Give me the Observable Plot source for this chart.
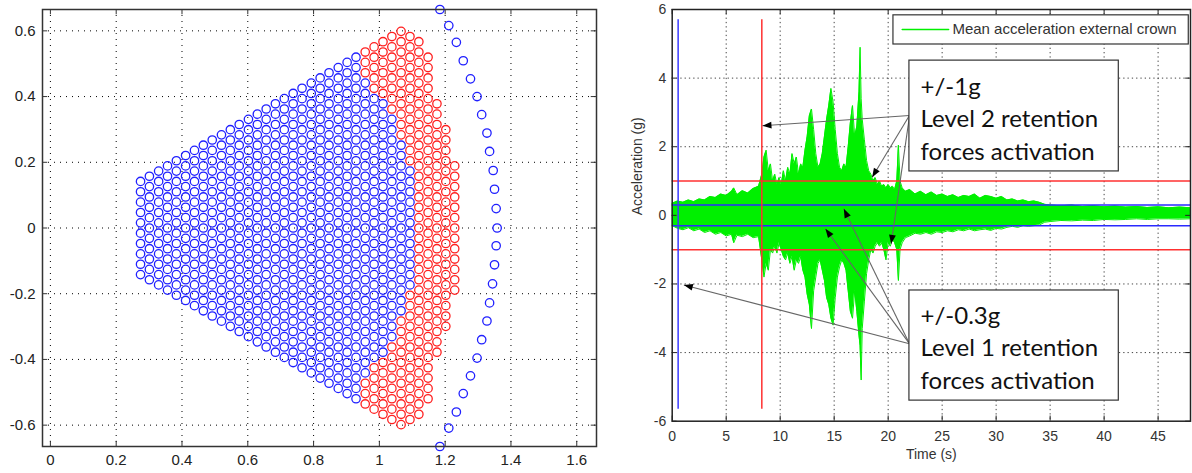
<!DOCTYPE html>
<html><head><meta charset="utf-8">
<script src="https://cdn.jsdelivr.net/npm/d3@7"></script>
<script src="https://cdn.jsdelivr.net/npm/@observablehq/plot@0.6"></script>
<style>
body{margin:0;background:#fff;}
#wrap{position:relative;width:1192px;height:473px;overflow:hidden;background:#fff;}
#left{position:absolute;left:0;top:0;}
#right{position:absolute;left:600px;top:0;}
</style></head><body><div id="wrap"><div id="left"></div><div id="right"></div></div>
<script>
// ---------- LEFT PANEL DATA ----------
const leftXTicks = [0, 0.2, 0.4, 0.6, 0.8, 1, 1.2, 1.4, 1.6];
const leftYTicks = [-0.6, -0.4, -0.2, 0, 0.2, 0.4, 0.6];
// hexagonal lattice, one entry per column
const latticeDY = 0.0315;
const colX = [0.274,0.301,0.329,0.356,0.383,0.411,0.438,0.465,0.492,0.520,0.547,0.574,0.602,0.629,0.656,0.684,0.711,0.738,0.765,0.793,0.820,0.847,0.875,0.902,0.929,0.957,0.984,1.011,1.038,1.066,1.093,1.120,1.148,1.175,1.202,1.229];
const colHalf = [1,0,1,0,1,0,1,0,1,0,1,0,1,0,1,0,1,0,1,0,1,0,1,0,1,0,1,0,1,0,1,0,1,0,1,0];
const colTop = [0.142,0.158,0.173,0.189,0.205,0.221,0.236,0.252,0.268,0.284,0.299,0.315,0.331,0.347,0.362,0.378,0.394,0.410,0.425,0.441,0.457,0.473,0.488,0.504,0.520,0.536,0.551,0.567,0.583,0.599,0.583,0.567,0.520,0.378,0.299,0.189];
const colBlueTop = [1,1,1,1,1,1,1,1,1,1,1,1,1,1,1,1,1,1,1,1,1,1,1,1,1,0.45,0.40,0.38,0.34,0.26,0.19,-1,-1,-1,-1,-1];
// outer arc of blue circles
const arcX = [1.184,1.211,1.234,1.255,1.277,1.297,1.311,1.327,1.335,1.346,1.350,1.355,1.358,1.355,1.350,1.344,1.335,1.327,1.311,1.297,1.277,1.255,1.234,1.211,1.184];
const arcY = [0.665,0.616,0.565,0.509,0.454,0.400,0.345,0.289,0.233,0.175,0.118,0.059,0,-0.054,-0.112,-0.170,-0.228,-0.283,-0.340,-0.396,-0.450,-0.504,-0.560,-0.609,-0.665];

// ---------- RIGHT PANEL DATA ----------
const rightXTicks = [0,5,10,15,20,25,30,35,40,45];
const rightYTicks = [-6,-4,-2,0,2,4,6];
const sigT  = [0,0.5,1,1.5,2,2.5,3,3.5,4,4.5,5,5.5,5.7,6,6.5,7,7.5,8,8.3,8.5,8.7,8.9,9.1,9.3,9.5,9.7,9.9,10.1,10.3,10.5,10.7,10.9,11.1,11.3,11.5,11.7,11.9,12.1,12.3,12.5,12.7,12.9,13.1,13.3,13.5,13.7,13.9,14.1,14.3,14.5,14.7,14.9,15.1,15.3,15.5,15.7,15.9,16.1,16.3,16.5,16.7,16.9,17.1,17.3,17.4,17.5,17.6,17.8,18.0,18.2,18.4,18.6,18.8,19.0,19.2,19.4,19.6,19.8,20.0,20.2,20.4,20.6,20.8,20.95,21.1,21.3,21.6,22,22.5,23,23.5,24,24.5,25,25.5,26,26.5,27,27.5,28,28.5,29,29.5,30,30.5,31,31.5,32,32.5,33,33.5,34,34.5,35,36,37,38,39,40,41,42,43,44,45,46,47,48];
const sigHi = [0.35,0.42,0.38,0.45,0.40,0.48,0.45,0.55,0.52,0.62,0.58,0.70,0.80,0.60,0.72,0.65,0.78,0.85,1.2,1.7,1.9,1.3,1.5,1.0,1.2,0.9,1.1,0.9,1.3,1.0,1.4,1.2,1.8,1.5,1.7,1.2,1.5,1.4,1.9,2.3,2.9,3.1,2.5,1.8,1.4,1.5,1.8,2.3,2.8,3.2,3.7,3.3,2.5,1.8,1.4,1.3,1.5,1.4,2.0,2.7,3.2,2.3,2.6,3.6,4.9,3.4,2.8,2.2,1.6,1.3,1.2,1.0,1.1,0.9,1.0,0.85,0.9,0.8,0.9,0.8,0.85,0.75,1.0,2.05,1.0,0.8,0.7,0.75,0.62,0.7,0.6,0.68,0.58,0.62,0.55,0.6,0.52,0.58,0.55,0.62,0.5,0.58,0.55,0.5,0.55,0.45,0.48,0.42,0.45,0.4,0.42,0.38,0.32,0.3,0.28,0.3,0.26,0.28,0.25,0.27,0.24,0.26,0.23,0.25,0.22,0.24,0.22];
const sigLo = [-0.3,-0.38,-0.42,-0.36,-0.45,-0.40,-0.50,-0.45,-0.55,-0.50,-0.60,-0.55,-0.80,-0.58,-0.62,-0.55,-0.65,-0.62,-1.3,-1.8,-1.4,-1.6,-1.0,-1.1,-0.9,-1.1,-0.8,-1.0,-1.2,-1.3,-1.1,-1.4,-1.2,-1.6,-1.3,-1.4,-1.2,-1.6,-1.8,-2.3,-2.6,-3.3,-2.2,-1.8,-1.4,-1.3,-1.6,-1.9,-2.4,-2.6,-3.0,-3.2,-2.4,-1.8,-1.5,-1.3,-1.4,-1.6,-2.2,-2.8,-3.0,-2.2,-2.8,-3.5,-3.8,-4.8,-3.3,-2.5,-1.7,-1.3,-1.0,-1.1,-0.9,-0.8,-0.9,-0.8,-1.0,-1.3,-0.8,-0.9,-0.7,-0.8,-1.0,-1.9,-1.0,-0.8,-0.65,-0.6,-0.52,-0.55,-0.5,-0.55,-0.48,-0.5,-0.45,-0.48,-0.42,-0.45,-0.4,-0.45,-0.42,-0.4,-0.44,-0.38,-0.4,-0.35,-0.32,-0.35,-0.3,-0.32,-0.3,-0.28,-0.2,-0.18,-0.15,-0.16,-0.14,-0.15,-0.12,-0.13,-0.12,-0.1,-0.12,-0.1,-0.1,-0.11,-0.1];
const levelRed = [-1, 1];
const levelBlue = [-0.3, 0.3];
const markerBlueT = 0.55, markerRedT = 8.3, markerLo = -5.65, markerHi = 5.7;
const legendLabel = "Mean acceleration external crown";
const boxLabels = ["+/-1g\nLevel 2 retention\nforces activation", "+/-0.3g\nLevel 1 retention\nforces activation"];
const boxT1 = [21.97, 21.97], boxT2 = [41.36, 41.36];
const boxV1 = [4.51, -2.19], boxV2 = [1.28, -5.40];
const boxTextT = [23.0, 23.0], boxTextV = [2.87, -3.80];
const arrowX1 = [21.97, 21.97, 21.97, 21.97, 21.97, 21.97];
const arrowY1 = [2.91, 2.91, 2.88, -3.74, -3.74, -3.74];
const arrowX2 = [8.36, 18.52, 20.28, 15.89, 14.19, 1.08];
const arrowY2 = [2.61, 1.11, -0.83, 0.19, -0.39, -2.03];

// ---------- LEFT PLOT ----------
const points = [];
colX.forEach((x, i) => {
  const off = colHalf[i] ? 0.5 : 0;
  for (let k = -30; k <= 30; k++) {
    const y = (k + off) * latticeDY;
    if (Math.abs(y) <= colTop[i] + 0.005) points.push({x, y, c: Math.abs(y) <= colBlueTop[i] + 0.005 ? "#2020ff" : "#ff2020"});
  }
});
const arc = arcX.map((x, i) => ({x, y: arcY[i]}));
const lx = [-0.024, 1.66], ly = [-0.665, 0.665];
const fmt1 = d => String(+d.toFixed(1));
const leftPlot = Plot.plot({
  width: 600, height: 473, marginLeft: 42, marginRight: 4, marginTop: 9, marginBottom: 27,
  x: {domain: lx}, y: {domain: ly},
  style: {fontFamily: "Liberation Sans, Arial, sans-serif", fontSize: "15px", color: "#222", background: "transparent"},
  marks: [
    Plot.gridX(leftXTicks, {stroke: "#000", strokeOpacity: 1, strokeDasharray: "1,5"}),
    Plot.gridY(leftYTicks, {stroke: "#000", strokeOpacity: 1, strokeDasharray: "1,5"}),
    Plot.ruleX(leftXTicks, {x: d => d, y1: ly[0], y2: ly[0] + 0.016, stroke: "#333"}),
    Plot.ruleX(leftXTicks, {x: d => d, y1: ly[1], y2: ly[1] - 0.016, stroke: "#333"}),
    Plot.ruleY(leftYTicks, {y: d => d, x1: lx[0], x2: lx[0] + 0.016, stroke: "#333"}),
    Plot.ruleY(leftYTicks, {y: d => d, x1: lx[1], x2: lx[1] - 0.016, stroke: "#333"}),
    Plot.dot(points, {x: "x", y: "y", r: 4.2, stroke: "c", fill: "none", strokeWidth: 1.3}),
    Plot.dot(arc, {x: "x", y: "y", r: 4.2, stroke: "#2020ff", fill: "none", strokeWidth: 1.3}),
    Plot.frame({stroke: "#333", strokeWidth: 1.5}),
    Plot.axisX(leftXTicks, {tickSize: 0, tickPadding: 8, tickFormat: fmt1, label: null}),
    Plot.axisY(leftYTicks, {tickSize: 0, tickPadding: 7, tickFormat: fmt1, label: null})
  ]
});
document.getElementById("left").appendChild(leftPlot);

// ---------- RIGHT PLOT ----------
const rW = 592, rML = 71.7, rMR = 2, rMT = 9, rMB = 52.3, rH = 473;
const rx = [0, 48], ry = [-6, 6];
const pxX = (rW - rML - rMR) / (rx[1] - rx[0]);
const pxY = (rH - rMT - rMB) / (ry[1] - ry[0]);
const sig = sigT.map((t, i) => ({t, hi: sigHi[i], lo: sigLo[i]}));
const arrows = arrowX1.map((x1, i) => {
  const dx = (arrowX2[i] - x1) * pxX, dy = -(arrowY2[i] - arrowY1[i]) * pxY;
  return {x1, y1: arrowY1[i], x2: arrowX2[i], y2: arrowY2[i], rot: Math.atan2(dx, -dy) * 180 / Math.PI};
});
const boxes = boxLabels.map((label, i) => ({label, x1: boxT1[i], x2: boxT2[i], y1: boxV1[i], y2: boxV2[i], tx: boxTextT[i], ty: boxTextV[i]}));
const headShape = {draw(context, l, r) { context.moveTo(0, -l); context.lineTo(-3.4, 0); context.lineTo(3.4, 0); context.closePath(); }};
const legT1 = 20.49, legT2 = 47.84, legV1 = 5.83, legV2 = 4.98, legLineT = [21.3, 25.6], legLineV = 5.42, legTextT = 25.95;
const rightPlot = Plot.plot({
  width: rW, height: rH, marginLeft: rML, marginRight: rMR, marginTop: rMT, marginBottom: rMB,
  x: {domain: rx}, y: {domain: ry},
  style: {fontFamily: "Liberation Sans, Arial, sans-serif", fontSize: "14px", color: "#333", background: "transparent"},
  marks: [
    Plot.gridX(rightXTicks.slice(1), {stroke: "#444", strokeOpacity: 1, strokeDasharray: "1.3,3"}),
    Plot.gridY(rightYTicks.slice(1, -1), {stroke: "#444", strokeOpacity: 1, strokeDasharray: "1.3,3"}),
    Plot.areaY(sig, {x: "t", y1: "lo", y2: "hi", fill: "#00f000", curve: "linear"}),
    Plot.line(sig, {x: "t", y: "hi", stroke: "#00f000", strokeWidth: 1}),
    Plot.line(sig, {x: "t", y: "lo", stroke: "#00f000", strokeWidth: 1}),
    Plot.ruleY(levelRed, {y: d => d, stroke: "#ff3030", strokeWidth: 1.5}),
    Plot.ruleY(levelBlue, {y: d => d, stroke: "#2a2aff", strokeWidth: 1.5}),
    Plot.ruleX([markerBlueT], {x: d => d, y1: markerLo, y2: markerHi, stroke: "#3a3aff", strokeWidth: 1.5}),
    Plot.ruleX([markerRedT], {x: d => d, y1: markerLo, y2: markerHi, stroke: "#ff3030", strokeWidth: 1.5}),
    Plot.ruleX(rightXTicks, {x: d => d, y1: ry[0], y2: ry[0] + 0.15, stroke: "#222"}),
    Plot.ruleX(rightXTicks, {x: d => d, y1: ry[1], y2: ry[1] - 0.15, stroke: "#222"}),
    Plot.ruleY(rightYTicks, {y: d => d, x1: rx[0], x2: rx[0] + 0.45, stroke: "#222"}),
    Plot.ruleY(rightYTicks, {y: d => d, x1: rx[1], x2: rx[1] - 0.45, stroke: "#222"}),
    Plot.link(arrows, {x1: "x1", y1: "y1", x2: "x2", y2: "y2", stroke: "#666", strokeWidth: 1.1}),
    Plot.vector(arrows, {x: "x2", y: "y2", rotate: "rot", length: 9, anchor: "end", shape: headShape, fill: "#000", stroke: "none"}),
    Plot.rect(boxes, {x1: "x1", x2: "x2", y1: "y1", y2: "y2", fill: "#fff", stroke: "#333", strokeWidth: 1.2}),
    Plot.text(boxes, {x: "tx", y: "ty", text: "label", textAnchor: "start", lineAnchor: "middle", lineHeight: 1.36, fontSize: 24, fontFamily: "Lato", fill: "#111"}),
    Plot.rect([0], {x1: legT1, x2: legT2, y1: legV1, y2: legV2, fill: "#fff", stroke: "#333", strokeWidth: 1.2}),
    Plot.line(legLineT.map(t => ({t, v: legLineV})), {x: "t", y: "v", stroke: "#00f000", strokeWidth: 1.5}),
    Plot.text([legendLabel], {x: legTextT, y: legLineV, text: d => d, textAnchor: "start", fontSize: 15, fill: "#333"}),
    Plot.frame({stroke: "#222", strokeWidth: 1.5}),
    Plot.axisX(rightXTicks, {tickSize: 0, tickPadding: 10, tickFormat: d => String(d), label: null}),
    Plot.axisY(rightYTicks, {tickSize: 0, tickPadding: 6, tickFormat: d => String(d), label: null}),
    Plot.text(["Acceleration (g)"], {frameAnchor: "left", dx: -35, rotate: -90, text: d => d, fontSize: 14, fill: "#333"}),
    Plot.text(["Time (s)"], {frameAnchor: "bottom", dy: 38, text: d => d, fontSize: 14, fill: "#333"})
  ]
});
document.getElementById("right").appendChild(rightPlot);
</script></body></html>
